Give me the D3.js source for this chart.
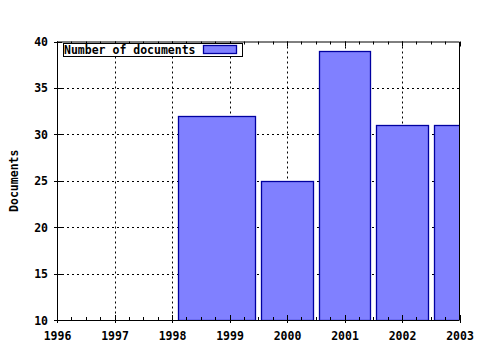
<!DOCTYPE html>
<html>
<head>
<meta charset="utf-8">
<script src="https://cdn.jsdelivr.net/npm/d3@7"></script>
<style>
  body { margin: 0; background: #fff; }
  text { font-family: "DejaVu Sans Mono", monospace; font-weight: bold; font-size: 11.5px; fill: #000; }
</style>
</head>
<body>
<div id="chart"></div>
<script>
// data
const years = [1999, 2000, 2001, 2002, 2003];
const barStart = [1998.1, 1999.55, 2000.55, 2001.55, 2002.55];
const barEnd = [1999.45, 2000.45, 2001.45, 2002.45, 2003.45];
const documents = [32, 25, 39, 31, 31];
const xTicks = [1996, 1997, 1998, 1999, 2000, 2001, 2002, 2003];
const yTicks = [10, 15, 20, 25, 30, 35, 40];
const legendLabel = 'Number of documents';
const yLabel = 'Documents';

const width = 480, height = 350;
const pLeft = 57, pRight = 459.5, pTop = 41.5, pBottom = 320;

const svg = d3.select('#chart').append('svg')
  .attr('width', width)
  .attr('height', height);

const x = d3.scaleLinear().domain([1996, 2003]).range([pLeft, pRight]);
const y = d3.scaleLinear().domain([10, 40]).range([pBottom, pTop]);

svg.append('clipPath').attr('id', 'plot-clip')
  .append('rect')
  .attr('x', pLeft).attr('y', pTop)
  .attr('width', pRight - pLeft).attr('height', pBottom - pTop);

// grid
const grid = svg.append('g')
  .attr('stroke', '#000')
  .attr('stroke-width', 1)
  .attr('stroke-dasharray', '2,3');
grid.selectAll('.vgrid')
  .data(xTicks.slice(1, -1))
  .enter().append('line')
  .attr('x1', d => Math.round(x(d)) + 0.5)
  .attr('x2', d => Math.round(x(d)) + 0.5)
  .attr('y1', pTop)
  .attr('y2', pBottom);
grid.selectAll('.hgrid')
  .data(yTicks.slice(1, -1))
  .enter().append('line')
  .attr('x1', pLeft)
  .attr('x2', pRight)
  .attr('y1', d => Math.round(y(d)) + 0.5)
  .attr('y2', d => Math.round(y(d)) + 0.5);

// bars
const bars = years.map((yr, i) => ({ year: yr, x0: barStart[i], x1: barEnd[i], v: documents[i] }));
svg.append('g')
  .attr('clip-path', 'url(#plot-clip)')
  .selectAll('rect')
  .data(bars)
  .enter().append('rect')
  .attr('x', d => Math.round(x(d.x0)) + 0.5)
  .attr('y', d => Math.round(y(d.v)) + 0.5)
  .attr('width', d => Math.round(x(d.x1)) - Math.round(x(d.x0)))
  .attr('height', d => Math.round(y(10)) - Math.round(y(d.v)))
  .attr('fill', '#8080ff')
  .attr('stroke', '#0000a0')
  .attr('stroke-width', 1.3);

// axes: labels through d3 axes, ticks restyled
const xAxis = d3.axisBottom(x)
  .tickValues(xTicks)
  .tickFormat(d3.format('d'))
  .tickSize(0)
  .tickPadding(12);
const gx = svg.append('g').attr('transform', `translate(0, ${pBottom})`).call(xAxis);
gx.select('.domain').remove();
gx.attr('font-family', null).attr('font-size', null);

const yAxis = d3.axisLeft(y)
  .tickValues(yTicks)
  .tickSize(0)
  .tickPadding(9);
const gy = svg.append('g').attr('transform', `translate(${pLeft}, 0)`).call(yAxis);
gy.select('.domain').remove();
gy.attr('font-family', null).attr('font-size', null);
gy.selectAll('text').attr('dy', '0.35em');

// tick marks
const ticks = svg.append('g').attr('stroke', '#000').attr('stroke-width', 1);
const minor = d3.range(1996, 2003.001, 0.25);
[pBottom, pTop].forEach((yy, k) => {
  const dir = k === 0 ? -1 : 1;
  ticks.selectAll(null)
    .data(minor)
    .enter().append('line')
    .attr('x1', d => Math.round(x(d)) + 0.5)
    .attr('x2', d => Math.round(x(d)) + 0.5)
    .attr('y1', yy)
    .attr('y2', d => yy + dir * (Number.isInteger(d) ? 5 : 3));
});
ticks.selectAll(null)
  .data(xTicks)
  .enter().append('line')
  .attr('x1', d => Math.round(x(d)) + 0.5)
  .attr('x2', d => Math.round(x(d)) + 0.5)
  .attr('y1', pBottom)
  .attr('y2', pBottom + 3);
ticks.selectAll(null)
  .data(yTicks)
  .enter().append('line')
  .attr('x1', pLeft - 3)
  .attr('x2', pLeft + 5)
  .attr('y1', d => Math.round(y(d)) + 0.5)
  .attr('y2', d => Math.round(y(d)) + 0.5);

// frame
svg.append('path')
  .attr('d', `M${pLeft + 0.5},${pTop}V${pBottom + 0.5}H${pRight}M${pLeft},${pTop + 0.5}H${pRight}V${pBottom}`)
  .attr('fill', 'none')
  .attr('stroke', '#000')
  .attr('stroke-width', 1);

// y label
svg.append('text')
  .attr('transform', `translate(18, ${(pTop + pBottom) / 2}) rotate(-90)`)
  .attr('text-anchor', 'middle')
  .text(yLabel);

// legend
const legend = svg.append('g');
legend.append('rect')
  .attr('x', 63.5).attr('y', 43.5)
  .attr('width', 179).attr('height', 13)
  .attr('fill', '#fff')
  .attr('stroke', '#000');
legend.append('text')
  .attr('x', 64)
  .attr('y', 54)
  .text(legendLabel);
legend.append('rect')
  .attr('x', 203.5).attr('y', 45.5)
  .attr('width', 33).attr('height', 8)
  .attr('fill', '#8080ff')
  .attr('stroke', '#0000a0')
  .attr('stroke-width', 1.3);
</script>
</body>
</html>
